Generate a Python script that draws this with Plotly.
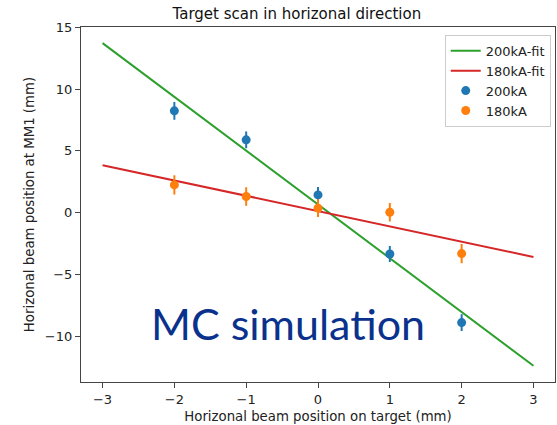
import numpy as np
import plotly.graph_objects as go

# Data
x_pos = [-2, -1, 0, 1, 2]
y_200 = [8.24, 5.89, 1.43, -3.35, -8.91]
err_200 = [0.72, 0.68, 0.65, 0.65, 0.68]
y_180 = [2.24, 1.30, 0.36, 0.03, -3.32]
err_180 = [0.78, 0.75, 0.72, 0.75, 0.78]
fit_x = [-3, 3]

p200 = np.polyfit(x_pos, y_200, 1)
p180 = np.polyfit(x_pos, y_180, 1)
fit200 = list(np.polyval(p200, fit_x))
fit180 = list(np.polyval(p180, fit_x))

C_BLUE, C_ORANGE, C_GREEN, C_RED = "#1f77b4", "#ff7f0e", "#2ca02c", "#d62728"
FONT = "DejaVu Sans"

fig = go.Figure()
fig.add_trace(go.Scatter(x=fit_x, y=fit200, mode="lines", name="200kA-fit",
                         line=dict(color=C_GREEN, width=2)))
fig.add_trace(go.Scatter(x=fit_x, y=fit180, mode="lines", name="180kA-fit",
                         line=dict(color=C_RED, width=2)))
fig.add_trace(go.Scatter(x=x_pos, y=y_200, mode="markers", name="200kA",
                         marker=dict(color=C_BLUE, size=9),
                         error_y=dict(type="data", array=err_200, width=0,
                                      thickness=2, color=C_BLUE)))
fig.add_trace(go.Scatter(x=x_pos, y=y_180, mode="markers", name="180kA",
                         marker=dict(color=C_ORANGE, size=9),
                         error_y=dict(type="data", array=err_180, width=0,
                                      thickness=2, color=C_ORANGE)))

axis_common = dict(showline=True, linecolor="#444", linewidth=1.2, mirror=True,
                   ticks="outside", ticklen=5, tickcolor="#444", tickwidth=1,
                   showgrid=False, zeroline=False,
                   tickfont=dict(family=FONT, size=13, color="#222"))

fig.update_xaxes(range=[-3.3, 3.3], tickvals=[-3, -2, -1, 0, 1, 2, 3],
                 title=dict(text="Horizonal beam position on target (mm)",
                            font=dict(family=FONT, size=13.3, color="#222"),
                            standoff=5),
                 **axis_common)
fig.update_yaxes(range=[-13.72, 15.03], tickvals=[-10, -5, 0, 5, 10, 15],
                 title=dict(text="Horizonal beam position at MM1 (mm)",
                            font=dict(family=FONT, size=13.3, color="#222"),
                            standoff=7),
                 **axis_common)

fig.add_annotation(text="MC simulation", xref="paper", yref="paper",
                   x=0.437, y=0.165, xanchor="center", yanchor="middle",
                   showarrow=False,
                   font=dict(family="Lato", size=43, color="#0a328c"))

fig.update_layout(
    width=557, height=425,
    margin=dict(l=81, r=2, t=27, b=43),
    paper_bgcolor="white", plot_bgcolor="white",
    title=dict(text="Target scan in horizonal direction", x=0.533, xanchor="center",
               y=1 - 14 / 425, yanchor="middle",
               font=dict(family=FONT, size=15, color="#111")),
    legend=dict(x=0.991, y=0.978, xanchor="right", yanchor="top",
                bordercolor="#cccccc", borderwidth=1, bgcolor="rgba(255,255,255,0.8)",
                font=dict(family=FONT, size=13, color="#222"),
                tracegroupgap=0, itemwidth=30),
    showlegend=True,
)

fig.write_html("out.html")
